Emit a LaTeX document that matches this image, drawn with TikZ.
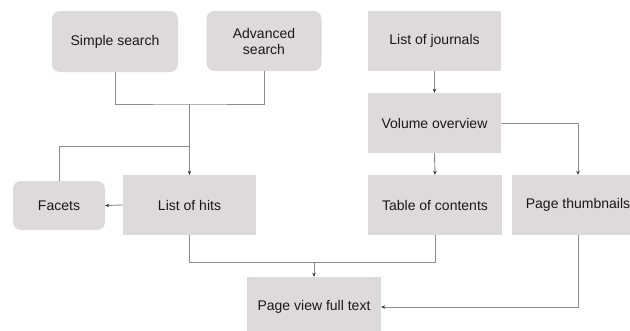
\documentclass[tikz,border=0pt]{standalone}
\usepackage{fontspec}
\setmainfont{Liberation Sans}
\usetikzlibrary{arrows.meta}
\definecolor{boxfill}{RGB}{220,218,218}
\definecolor{linegray}{RGB}{140,140,140}
\definecolor{txt}{RGB}{25,25,25}
\begin{document}
\begin{tikzpicture}[x=1pt,y=-1pt,
  box/.style={fill=boxfill,draw=none,minimum width=#1,minimum height=60pt,inner sep=0pt,align=center,text=txt,font=\fontsize{14}{16}\selectfont},
  rbox/.style={box=#1,rounded corners=8pt},
  conn/.style={draw=linegray,line width=0.9pt},
  arr/.style={conn,-{Stealth[length=4pt,width=3.5pt,color=black!80]}}]
\clip (0,0) rectangle (630,330);
\fill[white] (0,0) rectangle (630,330);
\node[rbox=126pt,minimum height=61pt] (simple) at (115,41.5) {Simple search};
\node[rbox=115pt] (adv) at (264,41) {Advanced\\search};
\node[box=133pt] (journals) at (434.5,41) {List of journals};
\node[box=133pt] (volume) at (434.5,123) {Volume overview};
\node[box=134pt] (toc) at (435,205) {Table of contents};
\node[box=132pt] (thumbs) at (578,205) {Page thumbnails};
\node[box=133pt] (hits) at (189.5,205) {List of hits};
\node[rbox=92pt,minimum height=49pt] (facets) at (59,205.5) {Facets};
\node[box=134pt] (pageview) at (314,307) {Page view full text};
\coordinate (j1) at (189.5,104);
\coordinate (j2) at (189.5,146);
\coordinate (j3) at (314,262);
\draw[conn] (simple.south) |- (j1) -| (adv.south);
\draw[arr] (j1) -- (hits.north);
\draw[conn] (j2) -| (facets.north);
\draw[arr] (hits.west) -- (facets.east);
\draw[arr] (journals.south) -- (volume.north);
\draw[arr] (volume.east) -| (thumbs.north);
\draw[arr] (volume.south) -- (toc.north);
\draw[conn] (hits.south) |- (j3);
\draw[conn] (toc.south) |- (j3);
\draw[arr] (j3) -- (pageview.north);
\draw[arr] (thumbs.south) |- (pageview.east);
\end{tikzpicture}
\end{document}
